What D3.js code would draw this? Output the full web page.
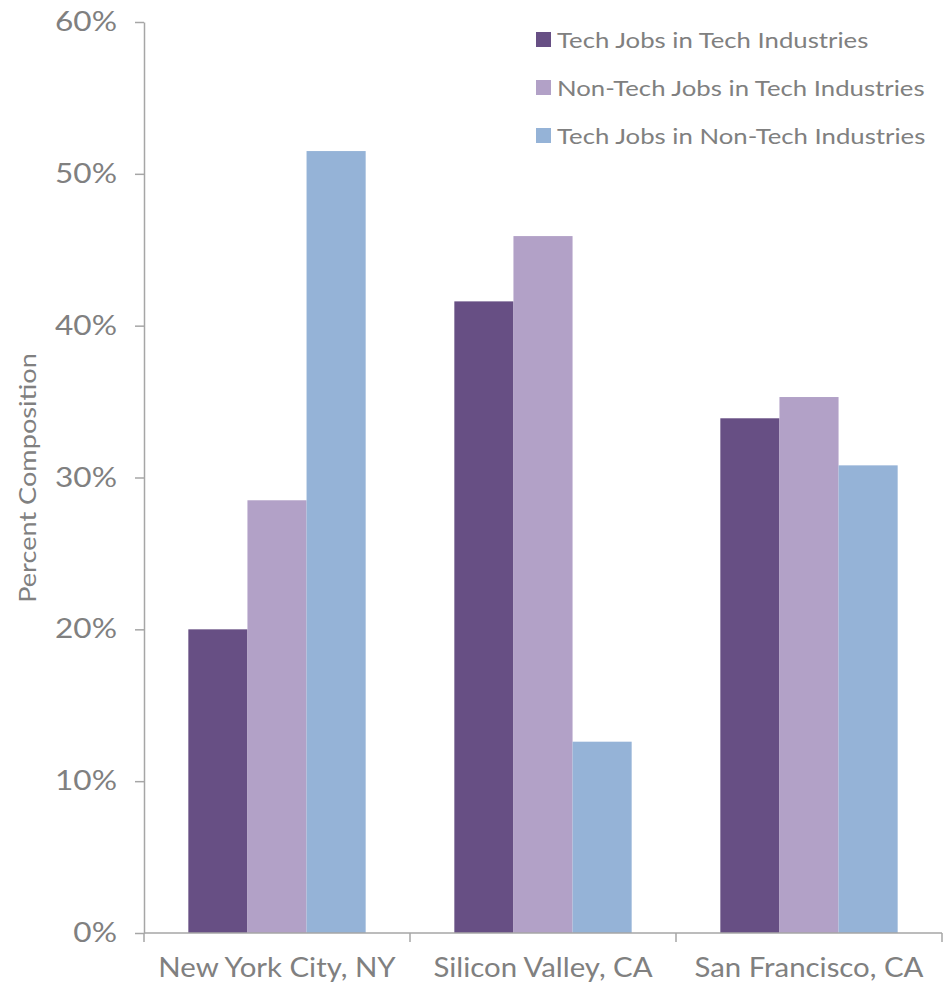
<!DOCTYPE html>
<html>
<head>
<meta charset="utf-8">
<script src="https://cdn.jsdelivr.net/npm/d3@7"></script>
<style>
  html, body { margin: 0; padding: 0; background: #ffffff; }
  svg { display: block; }
  text { font-family: "Lato", "Open Sans", sans-serif; fill: #808080; }
</style>
</head>
<body>
<svg id="chart" width="950" height="985"></svg>
<script>
const categories = ["New York City, NY", "Silicon Valley, CA", "San Francisco, CA"];
const seriesNames = ["Tech Jobs in Tech Industries", "Non-Tech Jobs in Tech Industries", "Tech Jobs in Non-Tech Industries"];
const techInTech = [20.0, 41.6, 33.9];
const nonTechInTech = [28.5, 45.9, 35.3];
const techInNonTech = [51.5, 12.6, 30.8];
const yTicks = [0, 10, 20, 30, 40, 50, 60];
const colors = ["#674f84", "#b2a1c7", "#95b3d7"];

const seriesValues = [techInTech, nonTechInTech, techInNonTech];
const data = categories.map((c, i) => ({
  category: c,
  values: seriesNames.map((s, j) => ({ series: s, value: seriesValues[j][i] }))
}));

const svg = d3.select("#chart");
const margin = { left: 144, right: 8, top: 22, bottom: 52 };
const W = 950, H = 985;

// widen glyphs to approximate the wide geometric face of the original
function widen(sel, k) {
  sel.each(function () {
    const len = this.getComputedTextLength();
    d3.select(this).attr("textLength", len * k).attr("lengthAdjust", "spacingAndGlyphs");
  });
}

const x0 = d3.scaleBand().domain(categories)
  .range([margin.left, W - margin.right])
  .paddingInner(1/3).paddingOuter(1/6);
const x1 = d3.scaleBand().domain(seriesNames).range([0, x0.bandwidth()]).padding(0);
const y = d3.scaleLinear().domain([0, 60]).range([H - margin.bottom, margin.top]);

// bars
const groups = svg.append("g").selectAll("g").data(data).join("g")
  .attr("transform", d => `translate(${x0(d.category)},0)`);
groups.selectAll("rect").data(d => d.values).join("rect")
  .attr("x", d => x1(d.series))
  .attr("width", x1.bandwidth())
  .attr("y", d => y(d.value))
  .attr("height", d => y(0) - y(d.value))
  .attr("fill", (d, i) => colors[i]);

const axisColor = "#a6a6a6";

// y axis
const yAxis = svg.append("g").attr("transform", `translate(${margin.left},0)`)
  .call(d3.axisLeft(y).tickValues(yTicks).tickFormat(d => d + "%").tickSize(9).tickSizeOuter(0).tickPadding(18));
yAxis.selectAll("path, line").attr("stroke", axisColor).attr("stroke-width", 1.5);
yAxis.selectAll("text").style("font-size", "27px").attr("fill", "#808080");
widen(yAxis.selectAll("text"), 1.17);

// x axis baseline
const step = x0.step();
const left0 = x0(categories[0]) - x0.paddingOuter() * step;
const bounds = d3.range(categories.length + 1).map(i => left0 + i * step);
svg.append("line")
  .attr("x1", margin.left).attr("x2", bounds[bounds.length - 1])
  .attr("y1", y(0)).attr("y2", y(0))
  .attr("stroke", axisColor).attr("stroke-width", 1.5);
svg.append("g").selectAll("line").data(bounds).join("line")
  .attr("x1", d => d).attr("x2", d => d)
  .attr("y1", y(0)).attr("y2", y(0) + 9)
  .attr("stroke", axisColor).attr("stroke-width", 1.5);

const xAxis = svg.append("g").attr("transform", `translate(0,${y(0)})`)
  .call(d3.axisBottom(x0).tickSize(0).tickPadding(26));
xAxis.select(".domain").remove();
xAxis.selectAll("text").style("font-size", "26px").attr("fill", "#808080");
widen(xAxis.selectAll("text"), 1.13);

// y title
const yTitle = svg.append("text")
  .attr("transform", `translate(36,478) rotate(-90)`)
  .attr("text-anchor", "middle")
  .style("font-size", "23px")
  .text("Percent Composition");
widen(yTitle, 1.18);

// legend
const legend = svg.append("g").selectAll("g").data(seriesNames).join("g")
  .attr("transform", (d, i) => `translate(536,${32 + i * 48})`);
legend.append("rect").attr("width", 15).attr("height", 15).attr("fill", (d, i) => colors[i]);
const legText = legend.append("text").attr("x", 21).attr("y", 16)
  .style("font-size", "22px").text(d => d);
widen(legText, 1.17);
</script>
</body>
</html>
